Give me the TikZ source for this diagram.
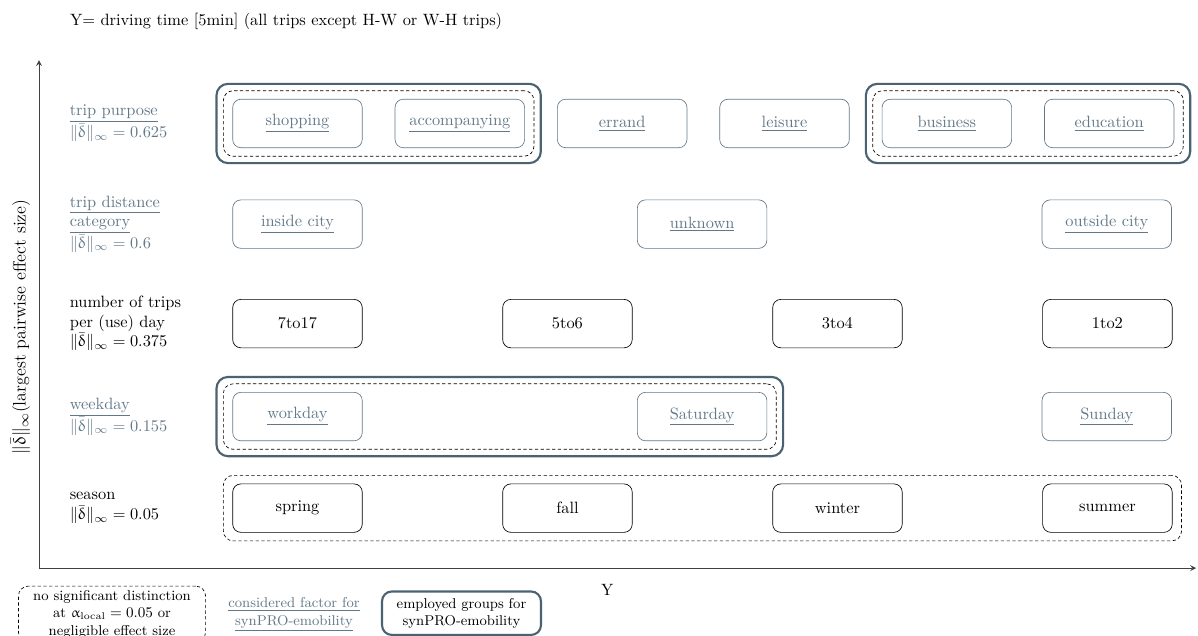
\documentclass[tikz,border=0pt]{standalone}
\usepackage{amsmath}
\usepackage{upgreek}
\usepackage{tikz}
\usetikzlibrary{positioning,fit}
\definecolor{FactorSlate}{HTML}{627888}
\definecolor{GroupSlate}{HTML}{4B6272}

\begin{document}
\begin{tikzpicture}[
    node distance=0.69cm,
    every node/.style={font=\normalsize},
    plainbox/.style={draw=black,rounded corners=5pt,minimum width=2.78cm,minimum height=1.04cm,inner sep=2pt},
    factorbox/.style={plainbox,draw=FactorSlate,text=FactorSlate},
    nosigbox/.style={draw=black,dash pattern=on 2pt off 1.5pt,rounded corners=6pt,inner xsep=5.5pt,inner ysep=5pt},
    groupbox/.style={draw=GroupSlate,line width=1.3pt,rounded corners=7pt,inner sep=4pt},
    rowlabel/.style={anchor=west,align=left,inner sep=0pt},
    legendtext/.style={align=center,font=\fontsize{8.7}{10.6}\selectfont,inner xsep=9pt,inner ysep=2.5pt},
    axis/.style={-stealth,line width=0.6pt,draw=black!75}
]
  \useasboundingbox (0,0) rectangle (25.71,13.63);

  % axes
  \coordinate (origin) at (0.837,1.438);
  \coordinate (ytip) at (0.837,12.34);
  \coordinate (xtip) at (25.67,1.438);
  \draw[axis] (origin) -- (ytip);
  \draw[axis] (origin) -- (xtip);
  \node (xlabel) at (13.03,0.97) {Y};
  \node[rotate=90,font=\fontsize{11}{13}\selectfont] (ylabel) at (0.44,6.61) {$\|\bar{\updelta}\|_{\infty}$(largest pairwise effect size)};
  \node[anchor=west,inner sep=0pt] (title) at (1.496,13.18) {Y= driving time [5min] (all trips except H-W or W-H trips)};

  % trip purpose
  \node[rowlabel,text=FactorSlate] (purpose) at (1.49,10.98) {\underline{trip purpose}\\$\|\bar{\updelta}\|_{\infty} = 0.625$};
  \node[factorbox] (shopping) at (6.384,10.98) {\underline{shopping}};
  \node[factorbox,right=of shopping] (accomp) {\underline{accompanying}};
  \node[factorbox,right=of accomp] (errand) {\underline{errand}};
  \node[factorbox,right=of errand] (leisure) {\underline{leisure}};
  \node[factorbox,right=of leisure] (business) {\underline{business}};
  \node[factorbox,right=of business] (education) {\underline{education}};
  \node[nosigbox,fit=(shopping)(accomp)] (purposens1) {};
  \node[groupbox,fit=(purposens1)] (purposegrp1) {};
  \node[nosigbox,fit=(business)(education)] (purposens2) {};
  \node[groupbox,fit=(purposens2)] (purposegrp2) {};

  % trip distance
  \node[rowlabel,text=FactorSlate] (distance) at (1.49,8.82) {\underline{trip distance}\\\underline{category}\\$\|\bar{\updelta}\|_{\infty} = 0.6$};
  \node[factorbox] (inside) at (6.384,8.82) {\underline{inside city}};
  \node[factorbox,right=5.89cm of inside] (unknown) {\underline{unknown}};
  \node[factorbox,right=5.89cm of unknown] (outside) {\underline{outside city}};

  % number of trips
  \node[rowlabel] (ntrips) at (1.49,6.685) {number of trips\\per (use) day\\$\|\bar{\updelta}\|_{\infty} = 0.375$};
  \node[plainbox] (n7to17) at (6.384,6.685) {7to17};
  \node[plainbox,right=3.0cm of n7to17] (n5to6) {5to6};
  \node[plainbox,right=3.0cm of n5to6] (n3to4) {3to4};
  \node[plainbox,right=3.0cm of n3to4] (n1to2) {1to2};

  % weekday
  \node[rowlabel,text=FactorSlate] (weekday) at (1.49,4.69) {\underline{weekday}\\$\|\bar{\updelta}\|_{\infty} = 0.155$};
  \node[factorbox] (workday) at (6.384,4.69) {\underline{workday}};
  \node[factorbox,right=5.89cm of workday] (saturday) {\underline{Saturday}};
  \node[factorbox,right=5.89cm of saturday] (sunday) {\underline{Sunday}};
  \node[nosigbox,fit=(workday)(saturday)] (weekdayns) {};
  \node[groupbox,fit=(weekdayns)] (weekdaygrp) {};

  % season
  \node[rowlabel] (season) at (1.49,2.725) {season\\$\|\bar{\updelta}\|_{\infty} = 0.05$};
  \node[plainbox] (spring) at (6.384,2.725) {spring};
  \node[plainbox,right=3.0cm of spring] (fall) {fall};
  \node[plainbox,right=3.0cm of fall] (winter) {winter};
  \node[plainbox,right=3.0cm of winter] (summer) {summer};
  \node[nosigbox,fit=(spring)(summer)] (seasonns) {};

  % legend
  \node[legendtext,draw=black,dash pattern=on 2pt off 1.5pt,rounded corners=6pt] (legns) at (2.404,0.451) {no significant distinction\\at $\upalpha_{\mathrm{local}} = 0.05$ or\\negligible effect size};
  \node[legendtext,text=FactorSlate] (legfactor) at (6.309,0.44) {\underline{considered factor for}\\\underline{synPRO-emobility}};
  \node[legendtext,draw=GroupSlate,line width=1.3pt,rounded corners=6pt,inner ysep=4pt] (leggrp) at (9.904,0.47) {employed groups for\\synPRO-emobility};
\end{tikzpicture}
\end{document}
